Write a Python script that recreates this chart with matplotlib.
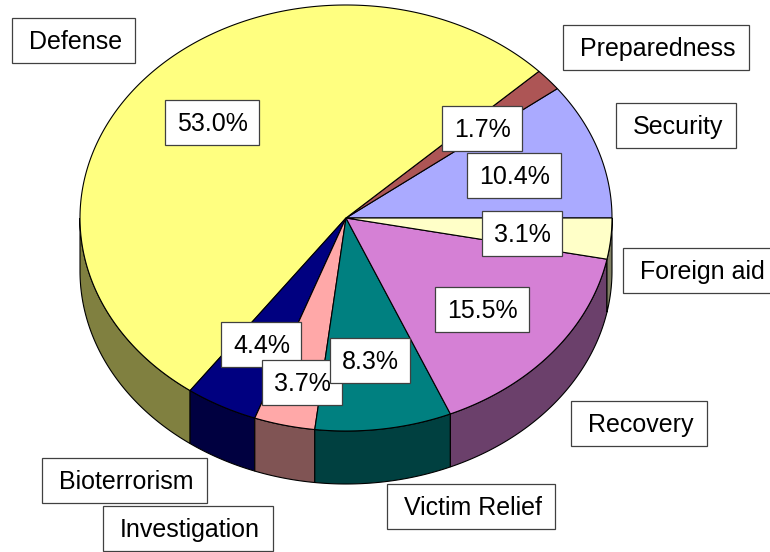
import numpy as np
import matplotlib
matplotlib.use("Agg")
import matplotlib.pyplot as plt
from matplotlib.patches import Polygon, Rectangle

# ---- data (counter-clockwise from the 3 o'clock direction) ----
categories = ["Security", "Preparedness", "Defense", "Bioterrorism",
              "Investigation", "Victim Relief", "Recovery", "Foreign aid"]
values = [10.4, 1.7, 53.0, 4.4, 3.7, 8.3, 15.5, 3.1]
colors = ["#AAAAFF", "#AD5555", "#FFFF80", "#000080",
          "#FFA8A8", "#008080", "#D580D5", "#FFFFC8"]

# ---- layout (pixel coordinates: box left edge, box vertical centre) ----
W, H = 770, 552
cx, cy, rx, ry, depth = 346, 218, 266, 213, 53
pct_box = [(467, 175.5), (442, 128.5), (165, 122.5), (221, 344.5),
           (262, 382.5), (330, 360.5), (435, 309.5), (482, 233.5)]
name_box = [(616, 125), (563, 47), (12, 40.5), (42, 480.5),
            (103, 528), (387, 506.5), (571, 423.5), (623, 270.5)]
BOX_H = 45
FS = 18

plt.rcParams["font.family"] = ["Liberation Sans", "DejaVu Sans"]
fig = plt.figure(figsize=(W / 100, H / 100), dpi=100)
ax = fig.add_axes([0, 0, 1, 1])
ax.set_xlim(0, W)
ax.set_ylim(H, 0)
ax.axis("off")


def pt(t, dy=0.0):
    r = np.radians(t)
    return cx + rx * np.cos(r), cy - ry * np.sin(r) + dy


def darker(c, f=0.5):
    rgb = np.array(matplotlib.colors.to_rgb(c))
    return tuple(rgb * f)


total = sum(values)
bounds = np.concatenate([[0], np.cumsum(values) / total * 360.0])

# side walls (front half only: 180..360 degrees)
for i, col in enumerate(colors):
    a1, a2 = bounds[i], bounds[i + 1]
    s1, s2 = max(a1, 180.0), min(a2, 360.0)
    if s2 <= s1:
        continue
    ts = np.linspace(s1, s2, max(4, int((s2 - s1) * 2)))
    top = [pt(t) for t in ts]
    bot = [pt(t, depth) for t in ts[::-1]]
    ax.add_patch(Polygon(top + bot, closed=True, facecolor=darker(col),
                         edgecolor="black", linewidth=0.8, zorder=1))

# top faces
for i, col in enumerate(colors):
    a1, a2 = bounds[i], bounds[i + 1]
    ts = np.linspace(a1, a2, max(4, int((a2 - a1) * 2)))
    poly = [(cx, cy)] + [pt(t) for t in ts]
    ax.add_patch(Polygon(poly, closed=True, facecolor=col,
                         edgecolor="black", linewidth=0.8, zorder=2))

renderer = fig.canvas.get_renderer()
cap = 0.716 * FS * 100 / 72.0


def boxed(text, left, ymid, padl, padr):
    t = ax.text(left + padl, ymid + cap / 2, text, fontsize=FS,
                ha="left", va="baseline", zorder=6)
    w = t.get_window_extent(renderer).width
    ax.add_patch(Rectangle((left, ymid - BOX_H / 2), w + padl + padr, BOX_H,
                           facecolor="white", edgecolor="#404040",
                           linewidth=0.9, zorder=5, clip_on=False))


for i, v in enumerate(values):
    x, y = pct_box[i]
    boxed(f"{v:.1f}%", x, y, 12, 11)
    x, y = name_box[i]
    boxed(categories[i], x, y, 17, 13)

fig.savefig("out.png", dpi=100)
